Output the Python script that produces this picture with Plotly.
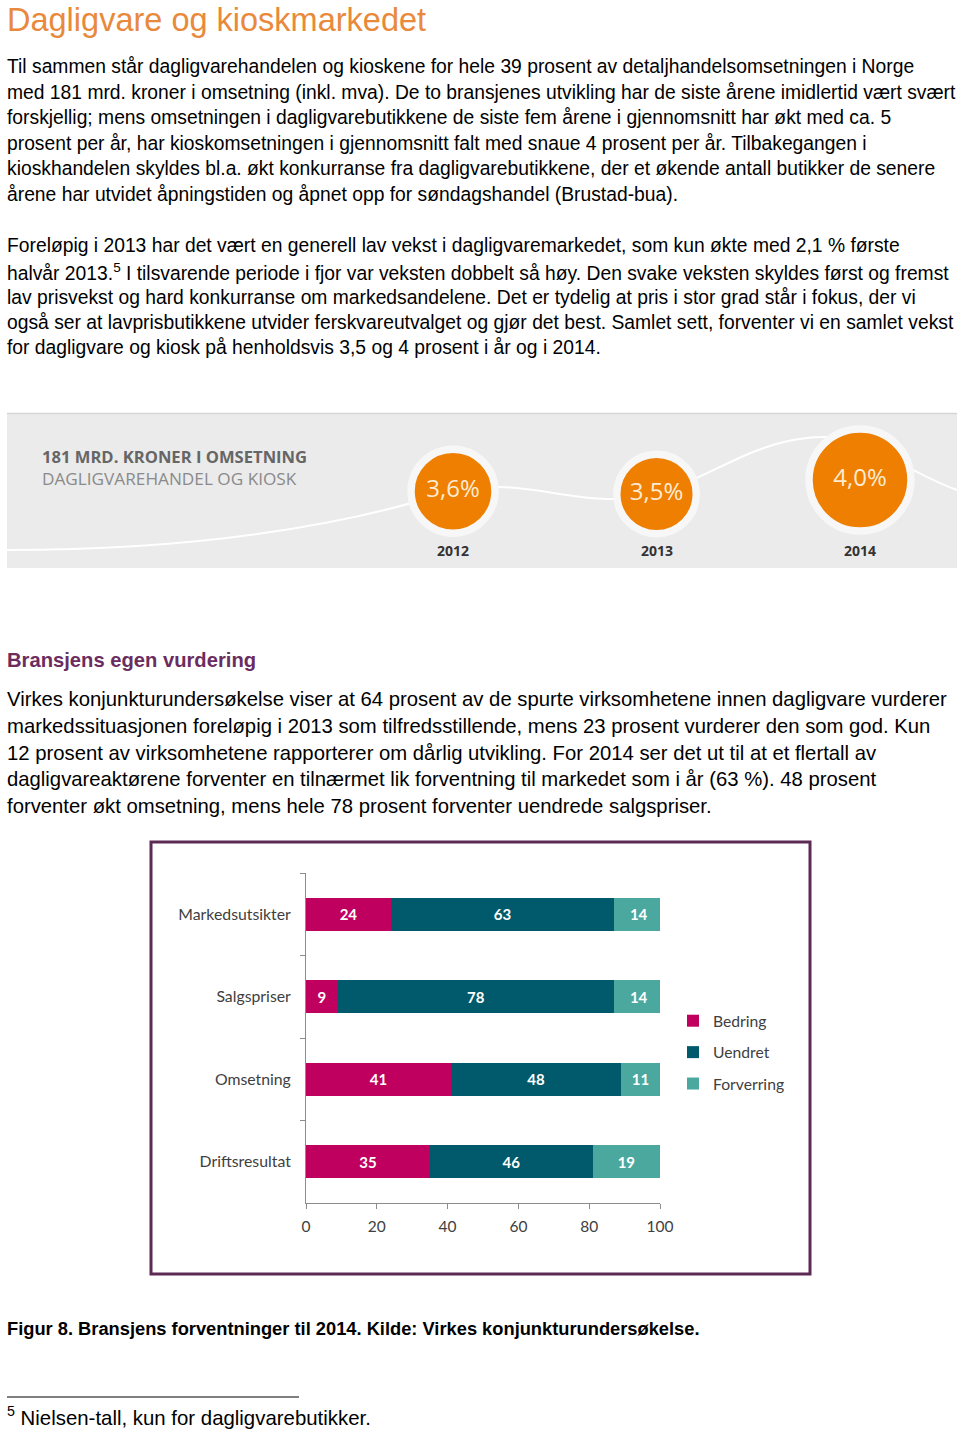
import plotly.graph_objects as go

W, H = 960, 1432
def X(px): return px / W
def Y(py): return 1 - py / H

# ---------------- data ----------------
title = "Dagligvare og kioskmarkedet"
para1 = [
    "Til sammen står dagligvarehandelen og kioskene for hele 39 prosent av detaljhandelsomsetningen i Norge",
    "med 181 mrd. kroner i omsetning (inkl. mva). De to bransjenes utvikling har de siste årene imidlertid vært svært",
    "forskjellig; mens omsetningen i dagligvarebutikkene de siste fem årene i gjennomsnitt har økt med ca. 5",
    "prosent per år, har kioskomsetningen i gjennomsnitt falt med snaue 4 prosent per år. Tilbakegangen i",
    "kioskhandelen skyldes bl.a. økt konkurranse fra dagligvarebutikkene, der et økende antall butikker de senere",
    "årene har utvidet åpningstiden og åpnet opp for søndagshandel (Brustad-bua).",
]
para2 = [
    "Foreløpig i 2013 har det vært en generell lav vekst i dagligvaremarkedet, som kun økte med 2,1 % første",
    "halvår 2013.<sup>5</sup> I tilsvarende periode i fjor var veksten dobbelt så høy. Den svake veksten skyldes først og fremst",
    "lav prisvekst og hard konkurranse om markedsandelene. Det er tydelig at pris i stor grad står i fokus, der vi",
    "også ser at lavprisbutikkene utvider ferskvareutvalget og gjør det best. Samlet sett, forventer vi en samlet vekst",
    "for dagligvare og kiosk på henholdsvis 3,5 og 4 prosent i år og i 2014.",
]
heading2 = "Bransjens egen vurdering"
para3 = [
    "Virkes konjunkturundersøkelse viser at 64 prosent av de spurte virksomhetene innen dagligvare vurderer",
    "markedssituasjonen foreløpig i 2013 som tilfredsstillende, mens 23 prosent vurderer den som god. Kun",
    "12 prosent av virksomhetene rapporterer om dårlig utvikling. For 2014 ser det ut til at et flertall av",
    "dagligvareaktørene forventer en tilnærmet lik forventning til markedet som i år (63 %). 48 prosent",
    "forventer økt omsetning, mens hele 78 prosent forventer uendrede salgspriser.",
]
caption = "Figur 8. Bransjens forventninger til 2014. Kilde: Virkes konjunkturundersøkelse."
footnote = "<sup>5</sup> Nielsen-tall, kun for dagligvarebutikker."

banner_line1 = "181 MRD. KRONER I OMSETNING"
banner_line2 = "DAGLIGVAREHANDEL OG KIOSK"
years = [2012, 2013, 2014]
growth = [3.6, 3.5, 4.0]
growth_labels = ["3,6%", "3,5%", "4,0%"]

categories = ["Markedsutsikter", "Salgspriser", "Omsetning", "Driftsresultat"]
bedring = [24, 9, 41, 35]
uendret = [63, 78, 48, 46]
forverring = [14, 14, 11, 19]
series_names = ["Bedring", "Uendret", "Forverring"]
x_ticks = [0, 20, 40, 60, 80, 100]

# ---------------- styles ----------------
BODY = "Liberation Sans, Arial, sans-serif"
CHART_FONT = "Lato, Carlito, Calibri, sans-serif"
BANNER_FONT = "Open Sans, sans-serif"
colors = ["#C0005E", "#005A6B", "#4AA89F"]

fig = go.Figure()

# ---- bar chart ----
for name, vals, col in zip(series_names, [bedring, uendret, forverring], colors):
    fig.add_trace(go.Bar(
        y=categories, x=vals, name=name, orientation="h",
        marker=dict(color=col, line=dict(width=0)),
        text=vals, texttemplate="%{x}", textposition="inside",
        insidetextanchor="middle",
        textfont=dict(family=CHART_FONT, size=15, color="white", weight="bold"),
        legendgroup=name, xaxis="x", yaxis="y", width=0.4,
    ))

# ---- banner circles ----
sizes = [79.5 + (g - 3.5) * 45 for g in growth]
fig.add_trace(go.Scatter(
    x=years, y=growth, mode="markers+text", text=growth_labels,
    textposition="middle center",
    textfont=dict(family=BANNER_FONT, size=24, color="#FDEBD3"),
    marker=dict(size=sizes, color="#EE7F00", line=dict(color="#F7F7F7", width=7.5), opacity=1),
    xaxis="x2", yaxis="y2", showlegend=False, hoverinfo="skip", cliponaxis=False,
))

ann = []
def txt(x, y, s, size, color="#000", family=BODY, bold=False, xanchor="left", xref="paper", yref="paper"):
    ann.append(dict(x=x, y=y, xref=xref, yref=yref, text=s, showarrow=False,
                    xanchor=xanchor, yanchor="middle", align="left",
                    font=dict(family=family, size=size, color=color, weight="bold" if bold else "normal")))

txt(X(5), Y(20), title, 32.5, color="#E8893B")
for i, line in enumerate(para1):
    txt(X(5), Y(67 + i * 25.5), line, 19.3)
for i, line in enumerate(para2):
    txt(X(5), Y(246 + i * 25.5), line, 19.3)
txt(X(5), Y(660), heading2, 20.2, color="#6B2D60", bold=True)
for i, line in enumerate(para3):
    txt(X(5), Y(699 + i * 26.8), line, 20.3)
txt(X(5), Y(1328), caption, 18.3, bold=True)
txt(X(5), Y(1416), footnote, 20.4)

txt(X(40), Y(457), banner_line1, 16.6, color="#666666", family=BANNER_FONT, bold=True)
txt(X(40), Y(478), banner_line2, 17.2, color="#8A8A8A", family=BANNER_FONT)
for yr in years:
    ann.append(dict(x=yr, y=Y(550), xref="x2", yref="paper", text=str(yr), showarrow=False,
                    xanchor="center", yanchor="middle",
                    font=dict(family=BANNER_FONT, size=14, color="#333333", weight="bold")))

def path(points):
    (x0, y0), rest = points[0], points[1:]
    s = f"M {X(x0)},{Y(y0)}"
    for i in range(0, len(rest), 3):
        (a, b), (c, d), (e, f) = rest[i:i + 3]
        s += f" C {X(a)},{Y(b)} {X(c)},{Y(d)} {X(e)},{Y(f)}"
    return s

wave = path([(7, 550), (180, 550), (330, 530), (453, 491),
             (530, 475), (580, 512), (657, 494),
             (730, 470), (770, 425), (860, 440),
             (910, 470), (935, 482), (957, 490)])

shapes = [
    dict(type="rect", xref="paper", yref="paper", x0=X(7), x1=X(957), y0=Y(568), y1=Y(413),
         fillcolor="#EBEBEB", line=dict(width=0), layer="below"),
    dict(type="line", xref="paper", yref="paper", x0=X(7), x1=X(957), y0=Y(413.5), y1=Y(413.5),
         line=dict(color="#D5D5D5", width=1.5), layer="below"),
    dict(type="path", xref="paper", yref="paper", path=wave,
         line=dict(color="white", width=2), layer="below"),
    dict(type="rect", xref="paper", yref="paper", x0=X(151), x1=X(810), y0=Y(1274), y1=Y(842),
         line=dict(color="#5C2A55", width=3), fillcolor="rgba(0,0,0,0)"),
    dict(type="line", xref="paper", yref="paper", x0=X(7), x1=X(299), y0=Y(1397), y1=Y(1397),
         line=dict(color="#000", width=1)),
]

fig.update_layout(
    width=W, height=H, margin=dict(l=0, r=0, t=0, b=0, pad=0, autoexpand=False), autosize=False,
    paper_bgcolor="white", plot_bgcolor="rgba(0,0,0,0)",
    barmode="stack", bargap=0.6,
    annotations=ann, shapes=shapes,
    showlegend=True,
    legend=dict(x=X(673), y=Y(1004), xanchor="left", yanchor="top",
                font=dict(family=CHART_FONT, size=15.7, color="#404040"),
                traceorder="grouped", tracegroupgap=8, itemwidth=30,
                bgcolor="rgba(0,0,0,0)"),
    xaxis=dict(domain=[X(306), X(660)], range=[0, 100], tickvals=x_ticks,
               showgrid=False, zeroline=False, showline=True, linecolor="#8C8C8C", linewidth=1,
               ticks="outside", ticklen=5, tickcolor="#8C8C8C",
               tickfont=dict(family=CHART_FONT, size=15.5, color="#404040"),
               ticklabelstandoff=4, anchor="y", fixedrange=True, automargin=False),
    yaxis=dict(domain=[Y(1203), Y(873)], categoryorder="array", categoryarray=categories,
               autorange="reversed", showgrid=False, zeroline=False,
               showline=True, linecolor="#8C8C8C", linewidth=1,
               ticks="outside", ticklen=5, tickcolor="#8C8C8C", tickson="boundaries",
               tickfont=dict(family=CHART_FONT, size=15.8, color="#404040"),
               ticklabelstandoff=11, anchor="x", fixedrange=True, automargin=False),
    xaxis2=dict(domain=[X(7), X(957)], range=[2009.808, 2014.4767], visible=False,
                anchor="y2", fixedrange=True, automargin=False),
    yaxis2=dict(domain=[Y(568), Y(413)], range=[0.857, 6.393], visible=False,
                anchor="x2", fixedrange=True, automargin=False),
)

fig.write_html(
    "out.html",
    config={"responsive": False, "displayModeBar": False},
    post_script="document.body.style.margin='0';document.body.style.padding='0';"
                "document.body.style.overflow='hidden';",
)
